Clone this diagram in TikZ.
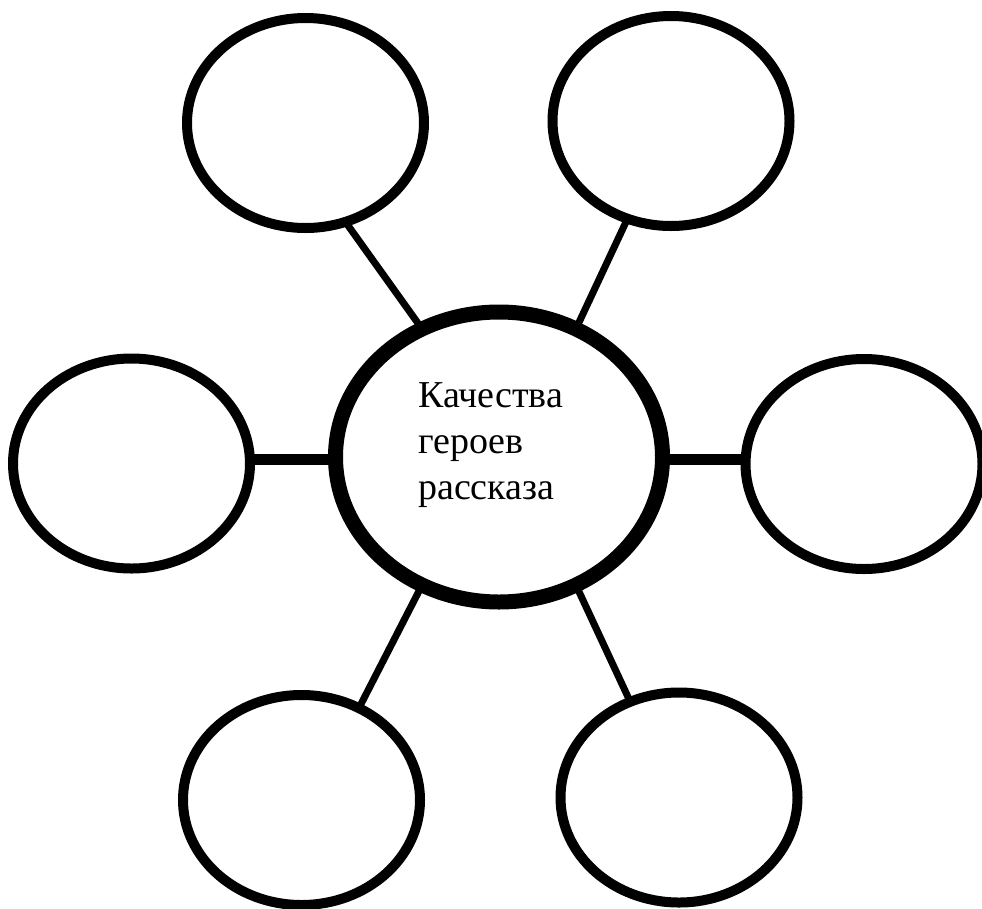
\documentclass[tikz,border=0pt]{standalone}
\usepackage{fontspec}
\setmainfont{Liberation Serif}
\newfontfamily\capfont{Liberation Serif}
\usetikzlibrary{shapes.geometric}
\begin{document}
\begin{tikzpicture}[x=1pt,y=-1pt,
  hub/.style={ellipse, draw, line width=15pt, minimum width=327pt, minimum height=290pt, inner sep=0pt, outer sep=0pt},
  leaf/.style={ellipse, draw, line width=10pt, minimum width=237pt, minimum height=210pt, inner sep=0pt, outer sep=0pt},
  spoke/.style={line width=7pt},
  hspoke/.style={line width=11pt},
  caption/.style={anchor=north west, align=left, inner sep=0pt, font=\capfont\fontsize{38}{46}\selectfont}]
\useasboundingbox (0,0) rectangle (982,908);
\node[hub] (c) at (499,457) {};
\node[leaf] (tl) at (305.5,123) {};
\node[leaf] (tr) at (671,121) {};
\node[leaf] (l) at (131.5,463.5) {};
\node[leaf] (r) at (864,464) {};
\node[leaf] (bl) at (301.5,800) {};
\node[leaf] (br) at (679,797.5) {};
\node[caption] (t) at (418,382) {Качества\\героев\\рассказа};
\draw[spoke] (c.121.5) -- (tl.292);
\draw[spoke] (c.59.3) -- (tr.246);
\draw[spoke] (c.239) -- (bl.58.6);
\draw[spoke] (c.301) -- (br.117);
\draw[hspoke] (c.181) -- (c.181 -| l.east);
\draw[hspoke] (c.359.5) -- (c.359.5 -| r.west);
\end{tikzpicture}
\end{document}
